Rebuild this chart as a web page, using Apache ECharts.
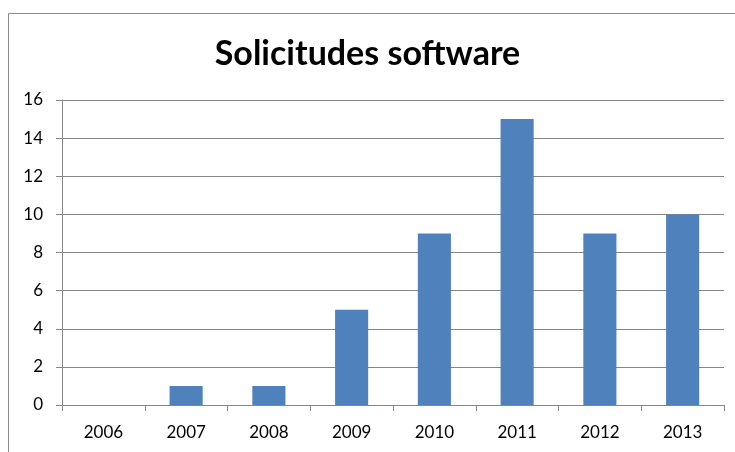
<!DOCTYPE html>
<html>
<head>
<meta charset="utf-8">
<script src="https://cdn.jsdelivr.net/npm/echarts@6/dist/echarts.min.js"></script>
<style>html,body{margin:0;padding:0;background:#fff}#c{width:735px;height:452px}</style>
</head>
<body>
<div id="c"></div>
<script>
const categories = ['2006','2007','2008','2009','2010','2011','2012','2013'];
const values = [0, 1, 1, 5, 9, 15, 9, 10];
const titleText = 'Solicitudes software';

const chart = echarts.init(document.getElementById('c'), null, {renderer: 'canvas'});
const font = 'Lato, "Open Sans", sans-serif';
chart.setOption({
  animation: false,
  backgroundColor: '#fff',
  title: {
    text: titleText,
    left: 'center',
    top: 32,
    textStyle: {fontFamily: font, fontWeight: 'bold', fontSize: 34, color: '#000'}
  },
  graphic: [{
    type: 'rect',
    shape: {x: 8.5, y: 13.5, width: 900, height: 600},
    style: {fill: 'none', stroke: '#8c8c8c', lineWidth: 1},
    silent: true
  }],
  grid: {left: 62, right: 11, top: 100, bottom: 47, containLabel: false},
  xAxis: {
    type: 'category',
    data: categories,
    axisLine: {lineStyle: {color: '#868686', width: 1}},
    axisTick: {show: true, alignWithLabel: false, length: 6, lineStyle: {color: '#868686'}},
    axisLabel: {fontFamily: font, fontSize: 17, color: '#000', margin: 19}
  },
  yAxis: {
    type: 'value',
    min: 0, max: 16, interval: 2,
    axisLine: {show: true, lineStyle: {color: '#868686', width: 1}},
    axisTick: {show: true, length: 6, lineStyle: {color: '#868686'}},
    splitLine: {show: true, lineStyle: {color: '#868686', width: 1}},
    axisLabel: {fontFamily: font, fontSize: 17, color: '#000', margin: 19}
  },
  series: [{
    type: 'bar',
    data: values,
    barWidth: '40%',
    itemStyle: {color: '#4f81bd'}
  }]
});
</script>
</body>
</html>
